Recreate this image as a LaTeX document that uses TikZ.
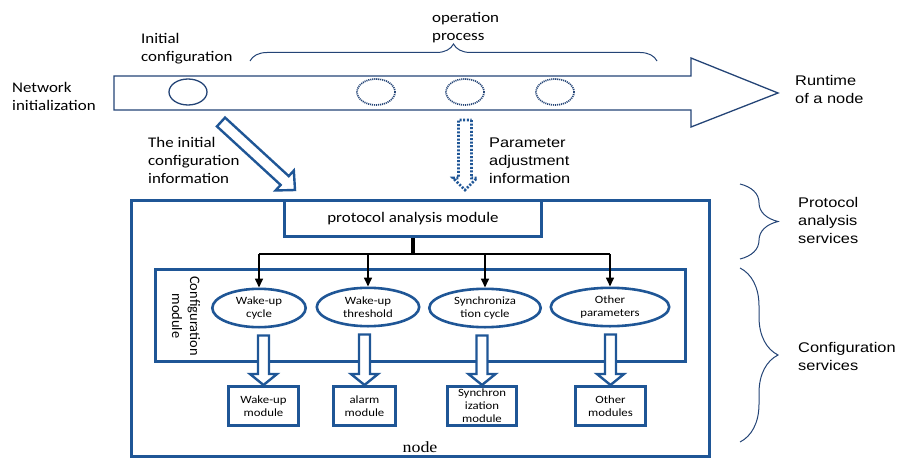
\documentclass[tikz,border=0pt]{standalone}
\usepackage{fontspec}
\setmainfont{Carlito}
\newfontfamily\calf{Carlito}[FakeStretch=1.15]
\newfontfamily\calr{Carlito}
\newfontfamily\arif{Liberation Sans}[FakeStretch=1.17]
\newfontfamily\serf{Liberation Serif}[FakeStretch=1.15]
\usetikzlibrary{calc,arrows.meta,decorations.pathreplacing,shapes.geometric}
\definecolor{bl}{RGB}{31,86,150}
\definecolor{dbl}{RGB}{36,68,118}
\newcommand{\hollowarrow}[6][]{%
  \path ($(#3)!#6!(#2)$) coordinate (hb);
  \draw[#1] ($(#2)!#4!90:(#3)$) -- ($(hb)!#4!90:(#3)$) -- ($(hb)!#5!90:(#3)$) -- (#3)
    -- ($(hb)!#5!-90:(#3)$) -- ($(hb)!#4!-90:(#3)$) -- ($(#2)!#4!-90:(#3)$) -- cycle;}
\tikzset{
  thickbox/.style={draw=bl, line width=2.6pt, fill=white, inner sep=0pt},
  ell/.style={ellipse, draw=bl, line width=2.6pt, fill=white, inner sep=0pt, align=center,
    font=\calf\fontsize{11.1}{13}\selectfont},
  smallbox/.style={rectangle, draw=bl, line width=2.6pt, fill=white, inner sep=0pt, align=center,
    font=\calf\fontsize{11.1}{13}\selectfont},
  hol/.style={draw=bl, line width=2.4pt, fill=white, line join=miter},
  dothol/.style={draw=bl, line width=2.6pt, dash pattern=on 2pt off 1.6pt, line join=miter},
  blk/.style={line width=1.6pt},
  blkarr/.style={line width=1.6pt, -{Triangle[width=8pt,length=9pt]}},
  brc/.style={draw=dbl, line width=1pt, decorate},
  circ/.style={ellipse, draw=dbl, line width=1.3pt, minimum width=38pt, minimum height=26pt, inner sep=0pt},
  dotcirc/.style={circ, line width=1.7pt, dash pattern=on 1.1pt off 0.9pt},
  tc/.style={font=\calf\fontsize{14.7}{18}\selectfont, inner sep=0pt, align=left, anchor=north west},
  ta/.style={font=\arif\fontsize{14}{18}\selectfont, inner sep=0pt, align=left, anchor=north west},
}
\begin{document}
\begin{tikzpicture}[x=1pt, y=-1pt]
\useasboundingbox (0,0) rectangle (901,460);
% top timeline arrow
\draw[draw=dbl, line width=1.3pt, line join=miter] (114,76) -- (691,76) -- (691,58) -- (778,93) -- (691,127) -- (691,110) -- (114,110) -- cycle;
\node[circ] (c1) at (188,92) {};
\node[dotcirc] (c2) at (376,92) {};
\node[dotcirc] (c3) at (465,92) {};
\node[dotcirc] (c4) at (555,92) {};
% top brace
\coordinate (tb1) at (250,61);
\coordinate (tb2) at (657,61);
\draw[brc, decoration={brace, amplitude=17pt}] (tb1) -- (tb2);
% labels top
\node[tc] (netinit) at (12,79.4) {\strut Network\\initialization};
\node[tc] (initconf) at (141,30.4) {\strut Initial\\configuration};
\node[tc] (opproc) at (432,9.4) {\strut operation\\process};
\node[ta] (runtime) at (795,72.4) {\strut Runtime\\of a node};
\node[tc] (theinit) at (148,134.4) {\strut The initial\\configuration\\information};
\node[ta] (param) at (489,134.4) {\strut Parameter\\adjustment\\information};
% diagonal and dotted arrows
\coordinate (dtail) at (221,122);
\coordinate (dtip) at (295,190);
\hollowarrow[hol] {dtail}{dtip}{6pt}{13.5pt}{14pt}
\coordinate (vtail) at (465,120);
\coordinate (vtip) at (465,190);
\hollowarrow[dothol] {vtail}{vtip}{6.5pt}{12pt}{12pt}
% node box
\node[thickbox, fill=none, minimum width=578.4pt, minimum height=256.4pt] (outer) at (420.5,328.5) {};
\node[thickbox, minimum width=257.4pt, minimum height=36.4pt, font=\calf\fontsize{14.7}{18}\selectfont] (pam) at (413,218.5) {protocol analysis module};
\node[thickbox, fill=none, minimum width=530.4pt, minimum height=92.4pt] (conf) at (420.5,315.5) {};
\node[font=\calr\fontsize{14.4}{18}\selectfont, rotate=-90, align=center, inner sep=0pt] (confmod) at (186,316) {Configuration\\module};
% ellipses
\node[ell, minimum width=93.4pt, minimum height=38.4pt] (e1) at (259,308) {Wake-up\\cycle};
\node[ell, minimum width=102.4pt, minimum height=38.4pt] (e2) at (368,307) {Wake-up\\threshold};
\node[ell, minimum width=111.4pt, minimum height=38.4pt] (e3) at (485,308) {Synchroniza\\tion cycle};
\node[ell, minimum width=118.4pt, minimum height=38.4pt] (e4) at (610,307) {Other\\parameters};
% distribution tree
\coordinate (trunk) at (413,254);
\draw[line width=3.5pt] (pam.south) -- (trunk);
\draw[blk] (e1.north |- trunk) -- (e4.north |- trunk);
\draw[blkarr] (e1.north |- trunk) -- (e1.north);
\draw[blkarr] (e2.north |- trunk) -- (e2.north);
\draw[blkarr] (e3.north |- trunk) -- (e3.north);
\draw[blkarr] (e4.north |- trunk) -- (e4.north);
% module boxes
\node[smallbox, minimum width=70.4pt, minimum height=39.4pt] (b1) at (263.5,406) {Wake-up\\module};
\node[smallbox, minimum width=62.4pt, minimum height=39.4pt] (b2) at (364.5,406) {alarm\\module};
\node[smallbox, minimum width=69.4pt, minimum height=39.4pt] (b3) at (482,406) {Synchron\\ization\\module};
\node[smallbox, minimum width=70.4pt, minimum height=39.4pt] (b4) at (610.5,406) {Other\\modules};
\coordinate (t1) at ($(b1.north |- e1.south)+(0,7)$);
\coordinate (t2) at ($(b2.north |- e2.south)+(0,7)$);
\coordinate (t3) at ($(b3.north |- e3.south)+(0,7)$);
\coordinate (t4) at ($(b4.north |- e4.south)+(0,7)$);
\hollowarrow[hol] {t1}{b1.north}{5.5pt}{13.5pt}{11pt}
\hollowarrow[hol] {t2}{b2.north}{5.5pt}{13.5pt}{11pt}
\hollowarrow[hol] {t3}{b3.north}{5.5pt}{13.5pt}{11pt}
\hollowarrow[hol] {t4}{b4.north}{5.5pt}{13.5pt}{11pt}
\node[font=\serf\fontsize{15.6}{18}\selectfont, inner sep=0pt, anchor=base] (nodelabel) at (420,452) {node};
% right braces
\coordinate (rb1) at (740,184);
\coordinate (rb2) at (740,259);
\coordinate (rb3) at (740,268);
\coordinate (rb4) at (740,442);
\draw[brc, decoration={brace, amplitude=38pt, aspect=0.5}] (rb1) -- (rb2);
\draw[brc, decoration={brace, amplitude=38pt, aspect=0.5}] (rb3) -- (rb4);
\node[ta] (protserv) at (798,194.4) {\strut Protocol\\analysis\\services};
\node[ta] (confserv) at (798,339.4) {\strut Configuration\\services};
\end{tikzpicture}
\end{document}
